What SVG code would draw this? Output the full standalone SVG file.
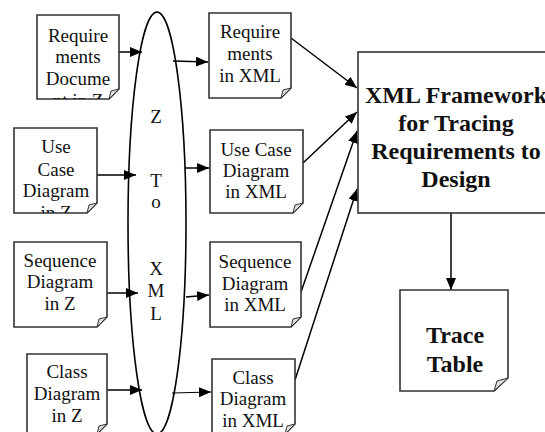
<svg xmlns="http://www.w3.org/2000/svg" width="545" height="432" viewBox="0 0 545 432">
<style>
.box{fill:#fff;stroke:#333;stroke-width:1.6}
.fold{fill:#ddd;stroke:#333;stroke-width:1}
text{font-family:"Liberation Serif","Times New Roman",serif;fill:#111;text-anchor:middle}
.t{font-size:19px}
.b{font-size:24px;font-weight:bold}
.c{stroke:#000;stroke-width:1.5;fill:none;marker-end:url(#ah)}
</style>
<defs>
<marker id="ah" markerUnits="userSpaceOnUse" markerWidth="14" markerHeight="12" refX="12" refY="5" orient="auto">
<path d="M0,0 L12,5 L0,10 Z" fill="#000"/>
</marker>
<clipPath id="c1"><rect x="37" y="15" width="82" height="84"/></clipPath>
<clipPath id="c2"><rect x="14" y="128" width="83" height="85"/></clipPath>
</defs>
<rect width="545" height="432" fill="#fff"/>
<g id="connectors">
<line class="c" x1="119" y1="52" x2="142" y2="52"/>
<line class="c" x1="97" y1="175" x2="136" y2="175"/>
<line class="c" x1="107" y1="293" x2="138" y2="293"/>
<line class="c" x1="107" y1="390" x2="142" y2="390"/>
<line class="c" x1="173" y1="61" x2="208" y2="62"/>
<line class="c" x1="185" y1="168" x2="209" y2="168"/>
<line class="c" x1="186" y1="297" x2="209" y2="295"/>
<line class="c" x1="172" y1="393" x2="211" y2="392" style="stroke-width:1"/>
<line class="c" x1="291" y1="38" x2="357" y2="88"/>
<line class="c" x1="303" y1="163" x2="357" y2="112"/>
<line class="c" x1="301" y1="292" x2="357" y2="131"/>
<line class="c" x1="295" y1="380" x2="357" y2="189"/>
<line class="c" x1="451" y1="213" x2="451" y2="290"/>
</g>
<g id="ztoxml">
<ellipse cx="157" cy="223" rx="29" ry="211" fill="none" stroke="#000" stroke-width="1.6"/>
<text class="t" x="156" y="123">Z</text>
<text class="t" x="156" y="187">T</text>
<text class="t" x="156" y="208">o</text>
<text class="t" x="156" y="275">X</text>
<text class="t" x="156" y="297">M</text>
<text class="t" x="156" y="320">L</text>
</g>
<g id="reqZ">
<path class="box" d="M37,15 H119 V89 L109,99 H37 Z"/>
<path class="fold" d="M109,99 L111,91 L119,89 Z"/>
<g clip-path="url(#c1)">
<text class="t" x="78" y="42">Require</text>
<text class="t" x="78" y="63">ments</text>
<text class="t" x="78" y="85">Docume</text>
<text class="t" x="78" y="107">nt in Z</text>
</g>
</g>
<g id="useZ">
<path class="box" d="M14,128 H97 V203 L87,213 H14 Z"/>
<path class="fold" d="M87,213 L89,205 L97,203 Z"/>
<g clip-path="url(#c2)">
<text class="t" x="56" y="153">Use</text>
<text class="t" x="56" y="176">Case</text>
<text class="t" x="56" y="197">Diagram</text>
<text class="t" x="56" y="219">in Z</text>
</g>
</g>
<g id="seqZ">
<path class="box" d="M14,242 H107 V317 L97,327 H14 Z"/>
<path class="fold" d="M97,327 L99,319 L107,317 Z"/>
<text class="t" x="60" y="267">Sequence</text>
<text class="t" x="60" y="288">Diagram</text>
<text class="t" x="60" y="310">in Z</text>
</g>
<g id="classZ">
<path class="box" d="M27,354 H107 V424 L97,434 H27 Z"/>
<path class="fold" d="M97,434 L99,426 L107,424 Z"/>
<text class="t" x="67" y="378">Class</text>
<text class="t" x="67" y="400">Diagram</text>
<text class="t" x="67" y="422">in Z</text>
</g>
<g id="reqXML">
<path class="box" d="M209,13 H291 V88 L281,98 H209 Z"/>
<path class="fold" d="M281,98 L283,90 L291,88 Z"/>
<text class="t" x="250" y="38">Require</text>
<text class="t" x="250" y="60">ments</text>
<text class="t" x="250" y="82">in XML</text>
</g>
<g id="useXML">
<path class="box" d="M210,130 H303 V203 L293,213 H210 Z"/>
<path class="fold" d="M293,213 L295,205 L303,203 Z"/>
<text class="t" x="256" y="156">Use Case</text>
<text class="t" x="256" y="177">Diagram</text>
<text class="t" x="256" y="198">in XML</text>
</g>
<g id="seqXML">
<path class="box" d="M210,242 H301 V317 L291,327 H210 Z"/>
<path class="fold" d="M291,327 L293,319 L301,317 Z"/>
<text class="t" x="255" y="268">Sequence</text>
<text class="t" x="255" y="290">Diagram</text>
<text class="t" x="255" y="311">in XML</text>
</g>
<g id="classXML">
<path class="box" d="M212,359 H295 V424 L285,434 H212 Z"/>
<path class="fold" d="M285,434 L287,426 L295,424 Z"/>
<text class="t" x="253" y="384">Class</text>
<text class="t" x="253" y="405">Diagram</text>
<text class="t" x="253" y="427">in XML</text>
</g>
<g id="framework">
<rect class="box" x="358" y="52" width="200" height="161"/>
<text class="b" x="456" y="103">XML Framework</text>
<text class="b" x="456" y="131">for Tracing</text>
<text class="b" x="456" y="159">Requirements to</text>
<text class="b" x="456" y="187">Design</text>
</g>
<g id="trace">
<path class="box" d="M400,290 H508 V378 L494,391 H400 Z"/>
<path class="fold" d="M494,391 L497,381 L508,378 Z"/>
<text class="b" x="455" y="343">Trace</text>
<text class="b" x="455" y="372">Table</text>
</g>
</svg>
